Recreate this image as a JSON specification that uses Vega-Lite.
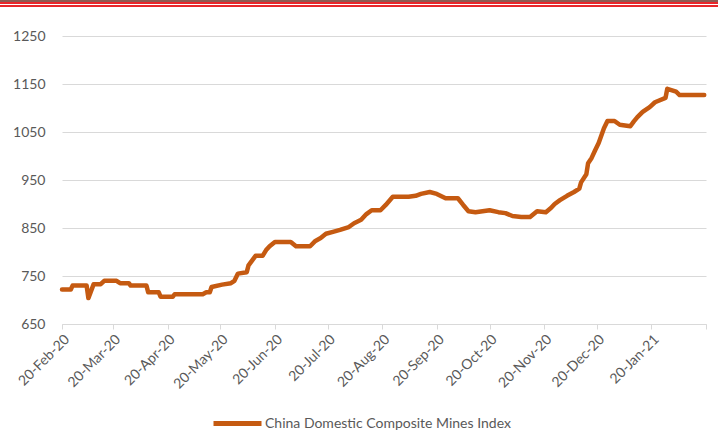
{
  "$schema": "https://vega.github.io/schema/vega-lite/v6.json",
  "width": 644,
  "height": 288,
  "autosize": "none",
  "padding": {"left": 62, "top": 36, "right": 12, "bottom": 112},
  "background": "white",
  "config": {
    "view": {"stroke": null},
    "font": "Lato",
    "axis": {"labelFont": "Lato", "labelFontSize": 14, "labelColor": "#595959"},
    "legend": {"labelFont": "Lato", "labelFontSize": 14, "labelColor": "#595959"}
  },
  "data": {
    "values": [
      {"date": "2020-02-20", "value": 722},
      {"date": "2020-02-25", "value": 722},
      {"date": "2020-02-26", "value": 730},
      {"date": "2020-03-05", "value": 730},
      {"date": "2020-03-06", "value": 704},
      {"date": "2020-03-09", "value": 733},
      {"date": "2020-03-13", "value": 733},
      {"date": "2020-03-15", "value": 740},
      {"date": "2020-03-22", "value": 740},
      {"date": "2020-03-24", "value": 735},
      {"date": "2020-03-29", "value": 735},
      {"date": "2020-03-30", "value": 730},
      {"date": "2020-04-08", "value": 730},
      {"date": "2020-04-09", "value": 716},
      {"date": "2020-04-15", "value": 716},
      {"date": "2020-04-16", "value": 707},
      {"date": "2020-04-23", "value": 707},
      {"date": "2020-04-24", "value": 712},
      {"date": "2020-05-10", "value": 712},
      {"date": "2020-05-12", "value": 716},
      {"date": "2020-05-14", "value": 716},
      {"date": "2020-05-15", "value": 727},
      {"date": "2020-05-21", "value": 732},
      {"date": "2020-05-26", "value": 735},
      {"date": "2020-05-28", "value": 740},
      {"date": "2020-05-30", "value": 755},
      {"date": "2020-06-04", "value": 758},
      {"date": "2020-06-05", "value": 772},
      {"date": "2020-06-07", "value": 782},
      {"date": "2020-06-09", "value": 792},
      {"date": "2020-06-13", "value": 792},
      {"date": "2020-06-15", "value": 804},
      {"date": "2020-06-17", "value": 812},
      {"date": "2020-06-20", "value": 821},
      {"date": "2020-06-29", "value": 821},
      {"date": "2020-07-02", "value": 812},
      {"date": "2020-07-10", "value": 812},
      {"date": "2020-07-13", "value": 823},
      {"date": "2020-07-16", "value": 829},
      {"date": "2020-07-19", "value": 838},
      {"date": "2020-07-23", "value": 842},
      {"date": "2020-07-27", "value": 846},
      {"date": "2020-08-01", "value": 852},
      {"date": "2020-08-04", "value": 860},
      {"date": "2020-08-08", "value": 867},
      {"date": "2020-08-11", "value": 879},
      {"date": "2020-08-14", "value": 887},
      {"date": "2020-08-19", "value": 887},
      {"date": "2020-08-22", "value": 898},
      {"date": "2020-08-26", "value": 915},
      {"date": "2020-09-04", "value": 915},
      {"date": "2020-09-08", "value": 917},
      {"date": "2020-09-11", "value": 921},
      {"date": "2020-09-16", "value": 925},
      {"date": "2020-09-20", "value": 921},
      {"date": "2020-09-25", "value": 912},
      {"date": "2020-10-02", "value": 912},
      {"date": "2020-10-05", "value": 898},
      {"date": "2020-10-08", "value": 885},
      {"date": "2020-10-12", "value": 883},
      {"date": "2020-10-16", "value": 885},
      {"date": "2020-10-20", "value": 887},
      {"date": "2020-10-25", "value": 883},
      {"date": "2020-10-29", "value": 881},
      {"date": "2020-11-02", "value": 875},
      {"date": "2020-11-07", "value": 873},
      {"date": "2020-11-12", "value": 873},
      {"date": "2020-11-16", "value": 885},
      {"date": "2020-11-21", "value": 883},
      {"date": "2020-11-24", "value": 892},
      {"date": "2020-11-26", "value": 900},
      {"date": "2020-11-29", "value": 908},
      {"date": "2020-12-03", "value": 917},
      {"date": "2020-12-07", "value": 925},
      {"date": "2020-12-10", "value": 932},
      {"date": "2020-12-11", "value": 945},
      {"date": "2020-12-14", "value": 962},
      {"date": "2020-12-15", "value": 985},
      {"date": "2020-12-17", "value": 996},
      {"date": "2020-12-19", "value": 1012},
      {"date": "2020-12-21", "value": 1027},
      {"date": "2020-12-24", "value": 1058},
      {"date": "2020-12-26", "value": 1073},
      {"date": "2020-12-30", "value": 1073},
      {"date": "2021-01-02", "value": 1065},
      {"date": "2021-01-08", "value": 1062},
      {"date": "2021-01-10", "value": 1072},
      {"date": "2021-01-12", "value": 1081},
      {"date": "2021-01-15", "value": 1092},
      {"date": "2021-01-19", "value": 1102},
      {"date": "2021-01-22", "value": 1112},
      {"date": "2021-01-28", "value": 1121},
      {"date": "2021-01-29", "value": 1140},
      {"date": "2021-02-03", "value": 1134},
      {"date": "2021-02-05", "value": 1127},
      {"date": "2021-02-19", "value": 1127}
    ]
  },
  "layer": [
    {
      "mark": {"type": "line", "strokeWidth": 4.5, "strokeCap": "round", "strokeJoin": "round"},
      "encoding": {
        "x": {
          "field": "date",
          "type": "temporal",
          "scale": {
            "type": "utc",
            "domain": [
              {"year": 2020, "month": "Feb", "date": 20, "utc": true},
              {"year": 2021, "month": "Feb", "date": 20, "utc": true}
            ]
          },
          "axis": {
            "title": null,
            "grid": false,
            "values": [
              {"year": 2020, "month": "Feb", "date": 20, "utc": true},
              {"year": 2020, "month": "Mar", "date": 20, "utc": true},
              {"year": 2020, "month": "Apr", "date": 20, "utc": true},
              {"year": 2020, "month": "May", "date": 20, "utc": true},
              {"year": 2020, "month": "Jun", "date": 20, "utc": true},
              {"year": 2020, "month": "Jul", "date": 20, "utc": true},
              {"year": 2020, "month": "Aug", "date": 20, "utc": true},
              {"year": 2020, "month": "Sep", "date": 20, "utc": true},
              {"year": 2020, "month": "Oct", "date": 20, "utc": true},
              {"year": 2020, "month": "Nov", "date": 20, "utc": true},
              {"year": 2020, "month": "Dec", "date": 20, "utc": true},
              {"year": 2021, "month": "Jan", "date": 20, "utc": true},
              {"year": 2021, "month": "Feb", "date": 20, "utc": true}
            ],
            "labelExpr": "utcFormat(datum.value, '%d-%b-%y') == '20-Feb-21' ? '' : utcFormat(datum.value, '%d-%b-%y')",
            "labelAngle": -45,
            "labelPadding": 3,
            "labelOverlap": false,
            "domainColor": "#d9d9d9",
            "domainWidth": 1,
            "tickColor": "#d9d9d9",
            "tickSize": 5
          }
        },
        "y": {
          "field": "value",
          "type": "quantitative",
          "scale": {"domain": [650, 1250], "nice": false, "zero": false},
          "axis": {
            "title": null,
            "format": "d",
            "values": [650, 750, 850, 950, 1050, 1150, 1250],
            "grid": true,
            "gridColor": "#d9d9d9",
            "domain": false,
            "ticks": false,
            "labelPadding": 17
          }
        },
        "color": {
          "datum": "China Domestic Composite Mines Index",
          "scale": {"range": ["#c55a11"]},
          "legend": {
            "title": null,
            "orient": "none",
            "legendX": 149,
            "legendY": 361,
            "symbolType": "stroke",
            "symbolSize": 2304,
            "symbolStrokeWidth": 5,
            "labelOffset": 1,
            "labelLimit": 400,
            "padding": 0
          }
        }
      }
    },
    {
      "mark": {"type": "rule", "color": "#8c5a52", "strokeWidth": 1.5, "clip": false},
      "encoding": {
        "y": {"datum": 1323.5, "type": "quantitative"},
        "x": {"datum": {"year": 2020, "month": "Jan", "date": 15, "utc": true}, "type": "temporal"},
        "x2": {"datum": {"year": 2021, "month": "Feb", "date": 28, "utc": true}}
      }
    },
    {
      "mark": {"type": "rule", "color": "#e8262a", "strokeWidth": 1.5, "clip": false},
      "encoding": {
        "y": {"datum": 1319.5, "type": "quantitative"},
        "x": {"datum": {"year": 2020, "month": "Jan", "date": 15, "utc": true}, "type": "temporal"},
        "x2": {"datum": {"year": 2021, "month": "Feb", "date": 28, "utc": true}}
      }
    },
    {
      "mark": {"type": "rule", "color": "#e8262a", "strokeWidth": 1.5, "clip": false},
      "encoding": {
        "y": {"datum": 1313, "type": "quantitative"},
        "x": {"datum": {"year": 2020, "month": "Jan", "date": 15, "utc": true}, "type": "temporal"},
        "x2": {"datum": {"year": 2021, "month": "Feb", "date": 28, "utc": true}}
      }
    }
  ]
}
